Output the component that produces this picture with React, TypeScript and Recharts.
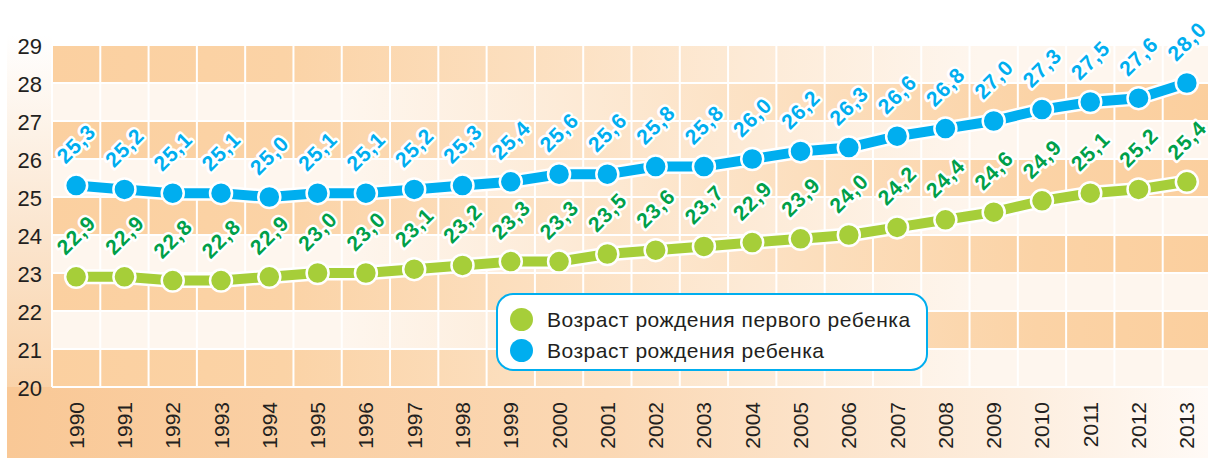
import { LineChart, Line, XAxis, YAxis, ReferenceArea, ReferenceLine, LabelList } from 'recharts';

const years = [
  '1990', '1991', '1992', '1993', '1994', '1995', '1996', '1997', '1998', '1999', '2000', '2001',
  '2002', '2003', '2004', '2005', '2006', '2007', '2008', '2009', '2010', '2011', '2012', '2013',
];
// возраст матери при рождении первого ребенка
const firstBirthAge = [
  22.9, 22.9, 22.8, 22.8, 22.9, 23.0, 23.0, 23.1, 23.2, 23.3, 23.3, 23.5,
  23.6, 23.7, 23.8, 23.9, 24.0, 24.2, 24.4, 24.6, 24.9, 25.1, 25.2, 25.4,
];
// подписи как в оригинале (2004 подписан "22,9")
const firstBirthLabels = [
  '22,9', '22,9', '22,8', '22,8', '22,9', '23,0', '23,0', '23,1', '23,2', '23,3', '23,3', '23,5',
  '23,6', '23,7', '22,9', '23,9', '24,0', '24,2', '24,4', '24,6', '24,9', '25,1', '25,2', '25,4',
];
const birthAge = [
  25.3, 25.2, 25.1, 25.1, 25.0, 25.1, 25.1, 25.2, 25.3, 25.4, 25.6, 25.6,
  25.8, 25.8, 26.0, 26.2, 26.3, 26.6, 26.8, 27.0, 27.3, 27.5, 27.6, 28.0,
];
const yTicks = [20, 21, 22, 23, 24, 25, 26, 27, 28, 29];

const legendItems = [
  { name: 'Возраст рождения первого ребенка', color: '#a6ce39' },
  { name: 'Возраст рождения ребенка', color: '#00aeef' },
];

const data = years.map((year, i) => ({
  i,
  year,
  first: firstBirthAge[i],
  all: birthAge[i],
}));

const BLUE = '#00aeef';
const GREEN = '#a6ce39';
const GREEN_TEXT = '#00a04a';
const FONT = '"Liberation Sans", Arial, Helvetica, sans-serif';

const makeDot = (color: string) => (props: any) => (
  <circle key={`d-${color}-${props.index}`} cx={props.cx} cy={props.cy} r={11} fill={color} stroke="#fff" strokeWidth={2.5} />
);

const makeLabel = (color: string, labels?: string[]) => (props: any) => {
  const { x, y, index, value } = props;
  const text = labels ? labels[index] : String(value).replace('.', ',').padEnd(4, ',0').slice(0, 4);
  return (
    <text
      key={`l-${color}-${index}`}
      transform={`translate(${x},${y - 42}) rotate(-45)`}
      textAnchor="middle"
      dominantBaseline="central"
      fontFamily={FONT}
      fontWeight="bold"
      fontSize={21}
      letterSpacing={1}
      fill={color}
      stroke="#fff"
      strokeWidth={5}
      strokeLinejoin="round"
      paintOrder="stroke"
    >
      {text}
    </text>
  );
};

const fmt = (v: number) => v.toFixed(1).replace('.', ',');

function XTick({ x, y, payload }: any) {
  return (
    <text
      transform={`translate(${x},${y + 15}) rotate(-90)`}
      textAnchor="end"
      dominantBaseline="central"
      fontFamily={FONT}
      fontSize={21}
      fill="#231f20"
    >
      {years[payload.value]}
    </text>
  );
}

function YTick({ x, y, payload }: any) {
  return (
    <text x={x - 10} y={y + 1} textAnchor="end" dominantBaseline="central" fontFamily={FONT} fontSize={22} fill="#231f20">
      {payload.value}
    </text>
  );
}

export default function App() {
  return (
    <div style={{ position: 'absolute', left: 0, top: 0, width: 1208, height: 458, overflow: 'hidden', background: '#fff' }}>
      {/* подложка под осями */}
      <div
        style={{
          position: 'absolute', left: 7, top: 35, width: 45, height: 423,
          background: 'linear-gradient(to bottom, #ffffff 0%, #fbe6d0 45%, #f9ca98 100%)',
        }}
      />
      <div
        style={{
          position: 'absolute', left: 7, top: 387, width: 1201, height: 71,
          background: 'linear-gradient(to right, #f9c896 0%, #fbd8b4 50%, #fdeedf 85%, #fffaf6 100%)',
        }}
      />
      <div style={{ position: 'absolute', left: 0, top: 0 }}>
        <LineChart width={1216} height={458} data={data} margin={{ top: 45, right: 5, bottom: 11, left: 0 }}>
          <defs>
            <linearGradient id="bandEven" x1="0" y1="0" x2="1" y2="0">
              <stop offset="0" stopColor="#fbd0a0" stopOpacity={1} />
              <stop offset="0.2" stopColor="#fbd3a6" stopOpacity={1} />
              <stop offset="0.8" stopColor="#fbd3a6" stopOpacity={0} />
            </linearGradient>
            <linearGradient id="bandOdd" x1="0" y1="0" x2="1" y2="0">
              <stop offset="0.25" stopColor="#fbd3a6" stopOpacity={0} />
              <stop offset="0.85" stopColor="#fbd3a6" stopOpacity={1} />
              <stop offset="1" stopColor="#fbcf9e" stopOpacity={1} />
            </linearGradient>
          </defs>
          <XAxis
            type="number"
            dataKey="i"
            domain={[-0.5, years.length - 0.5]}
            ticks={years.map((_, i) => i)}
            interval={0}
            height={60}
            axisLine={false}
            tickLine={false}
            tickSize={0}
            tickMargin={0}
            tick={<XTick />}
          />
          <YAxis
            type="number"
            domain={[20, 29]}
            ticks={yTicks}
            interval={0}
            width={52}
            axisLine={false}
            tickLine={false}
            tickSize={0}
            tickMargin={0}
            tick={<YTick />}
          />
          <ReferenceArea y1={20} y2={29} fill="#fef6ee" fillOpacity={1} stroke="none" />
          {yTicks.slice(0, -1).map((v) => (
            <ReferenceArea
              key={`b-${v}`}
              y1={v}
              y2={v + 1}
              fill={v % 2 === 0 ? 'url(#bandEven)' : 'url(#bandOdd)'}
              fillOpacity={1}
              stroke="none"
            />
          ))}
          {yTicks.map((v) => (
            <ReferenceLine key={`h-${v}`} y={v} stroke="#fff" strokeWidth={2} />
          ))}
          {[...years.map((_, i) => i - 0.5), years.length - 0.5].map((v) => (
            <ReferenceLine key={`v-${v}`} x={v} stroke="#fff" strokeWidth={2} />
          ))}
          <Line dataKey="all" stroke="#fff" strokeWidth={15} dot={false} activeDot={false} isAnimationActive={false} />
          <Line dataKey="all" stroke={BLUE} strokeWidth={10} dot={makeDot(BLUE)} activeDot={false} isAnimationActive={false}>
            <LabelList dataKey="all" content={makeLabel(BLUE, birthAge.map(fmt))} />
          </Line>
          <Line dataKey="first" stroke="#fff" strokeWidth={15} dot={false} activeDot={false} isAnimationActive={false} />
          <Line dataKey="first" stroke={GREEN} strokeWidth={10} dot={makeDot(GREEN)} activeDot={false} isAnimationActive={false}>
            <LabelList dataKey="first" content={makeLabel(GREEN_TEXT, firstBirthLabels)} />
          </Line>
        </LineChart>
      </div>
      {/* легенда */}
      <div
        style={{
          position: 'absolute', left: 496, top: 293, width: 432, height: 78,
          background: '#fff', border: `2px solid ${BLUE}`, borderRadius: 17, boxSizing: 'border-box',
          fontFamily: FONT, fontSize: 21, letterSpacing: 0.5, color: '#231f20',
          padding: '9px 0 0 12px',
        }}
      >
        {legendItems.map((it) => (
          <div key={it.name} style={{ display: 'flex', alignItems: 'center', height: 31 }}>
            <span style={{ width: 23, height: 23, borderRadius: '50%', background: it.color, marginRight: 14, flex: 'none' }} />
            <span style={{ lineHeight: '31px' }}>{it.name}</span>
          </div>
        ))}
      </div>
    </div>
  );
}
